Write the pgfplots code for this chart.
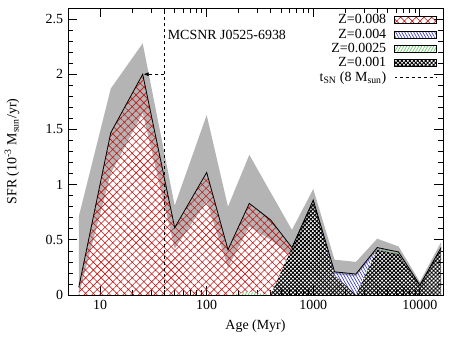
\documentclass[border=0pt]{standalone}
\usepackage{pgfplots}
\pgfplotsset{compat=1.18}
\usepackage{fontspec}
\setmainfont{Liberation Serif}
\usetikzlibrary{patterns.meta,arrows.meta}
\definecolor{bandgray}{RGB}{180,180,180}
\definecolor{zred}{RGB}{200,20,20}
\definecolor{zblue}{RGB}{40,40,200}
\definecolor{zgreen}{RGB}{90,200,90}
\pgfplotsset{
  boxleg/.style={legend image code/.code={\draw[##1] (0bp,-3.5bp) rectangle (42bp,3.5bp);}},
  lineleg/.style={legend image code/.code={\draw[##1] (0bp,0bp) -- (42bp,0bp);}},
}
\begin{document}
\fontsize{14}{16}\selectfont
\begin{tikzpicture}
\begin{axis}[
  scale only axis,
  width=375bp, height=287bp,
  xmode=log,
  xmin=5, xmax=16500,
  ymin=0, ymax=2.6,
  xtick={10,100,1000,10000},
  xticklabels={10,100,1000,10000},
  ytick={0,0.5,1,1.5,2,2.5},
  yticklabels={0,0.5,1,1.5,2,2.5},
  minor ytick={0.1,0.2,...,2.6},
  tick align=inside,
  major tick length=9bp,
  minor tick length=5bp,
  every tick/.style={black,line width=0.7bp},
  axis line style={line width=0.9bp},
  xlabel={Age (Myr)},
  ylabel={SFR (10\textsuperscript{-3} M\textsubscript{sun}/yr)},
  xlabel style={at={(axis description cs:0.5,-0.108)},anchor=center},
  ylabel style={at={(axis description cs:-0.149,0.5)},anchor=center},
  legend plot pos=right,
  legend cell align=right,
  legend style={at={(axis description cs:0.984,0.985)},anchor=north east,
    draw=none, fill=none, inner sep=0pt, row sep=-1bp,
    /tikz/every odd column/.style={column sep=6bp},
    font=\fontsize{14}{15}\selectfont},
  clip=true,
]
% legend images in reference order
\addlegendimage{boxleg, draw=none, pattern={Hatch[angle=45,distance=5.5bp,line width=0.6bp]}, pattern color=zred}
\addlegendentry{Z=0.008}
\addlegendimage{boxleg, draw=black, line width=0.6bp, pattern={Lines[angle=-60,distance=2.6bp,line width=0.6bp]}, pattern color=zblue}
\addlegendentry{Z=0.004}
\addlegendimage{boxleg, draw=black, line width=0.6bp, pattern={Lines[angle=60,distance=2.6bp,line width=0.6bp]}, pattern color=zgreen}
\addlegendentry{Z=0.0025}
\addlegendimage{boxleg, draw=black, line width=0.6bp, pattern={Hatch[angle=45,distance=2.8bp,line width=0.9bp]}, pattern color=black}
\addlegendentry{Z=0.001}
\addlegendimage{lineleg, black, dashed, line width=0.6bp}
\addlegendentry{t\textsubscript{SN} (8 M\textsubscript{sun})}

% uncertainty band
\addplot[forget plot, fill=bandgray, draw=none] coordinates {
 (6.31,0.71) (12.59,1.87) (25.12,2.28) (50.12,0.81) (100,1.63) (158.5,0.80)
 (251.2,1.27) (398.1,0.93) (631,0.59) (1000,0.96) (1585,0.32) (2512,0.30)
 (3981,0.51) (6310,0.44) (10000,0.12) (15849,0.48)
 (15849,0.38) (10000,0.05) (6310,0.35) (3981,0.40) (2512,0.17) (1585,0.19)
 (1000,0.80) (631,0.35) (398.1,0.50) (251.2,0.62) (158.5,0.25) (100,0.85)
 (50.12,0.42) (25.12,1.65) (12.59,1.10) (6.31,0.0)
} -- cycle;

% Z=0.001 (bottom layer)
\addplot[forget plot, draw=none, pattern={Hatch[angle=45,distance=2.8bp,line width=0.9bp]}, pattern color=black] coordinates {
 (398.1,0) (631,0.43) (1000,0.86) (1585,0.18) (2512,0) (3981,0.41) (6310,0.37)
 (10000,0.09) (15849,0.43) (15849,0) (398.1,0)
} -- cycle;

% Z=0.0025
\addplot[forget plot, draw=none, pattern={Lines[angle=60,distance=2.6bp,line width=0.6bp]}, pattern color=zgreen] coordinates {
 (158.5,0) (251.2,0.03) (398.1,0)
} -- cycle;
\addplot[forget plot, draw=none, pattern={Lines[angle=60,distance=2.6bp,line width=0.6bp]}, pattern color=zgreen] coordinates {
 (2512,0) (3981,0.42) (6310,0.39) (10000,0.09) (6310,0.37) (3981,0.41)
} -- cycle;

% Z=0.004
\addplot[forget plot, draw=none, pattern={Lines[angle=-60,distance=2.6bp,line width=0.6bp]}, pattern color=zblue] coordinates {
 (1000,0.86) (1585,0.21) (2512,0.19) (3981,0.43) (6310,0.39)
 (3981,0.42) (2512,0) (1585,0.18)
} -- cycle;

% Z=0.008 (top layer)
\addplot[forget plot, draw=none, pattern={Hatch[angle=45,distance=5.5bp,line width=0.6bp]}, pattern color=zred] coordinates {
 (6.31,0.07) (12.59,1.47) (25.12,2.0) (50.12,0.61) (100,1.11) (158.5,0.41)
 (251.2,0.83) (398.1,0.68) (631,0.43)
 (398.1,0) (251.2,0.03) (158.5,0) (100,0) (50.12,0) (25.12,0) (12.59,0) (6.31,0)
} -- cycle;

% total SFR
\addplot[forget plot, black, line width=0.8bp] coordinates {
 (6.31,0.07) (12.59,1.47) (25.12,2.0) (50.12,0.61) (100,1.11) (158.5,0.41)
 (251.2,0.83) (398.1,0.68) (631,0.43) (1000,0.86) (1585,0.21) (2512,0.19)
 (3981,0.43) (6310,0.39) (10000,0.09) (15849,0.43)
};

% t_SN
\addplot[forget plot, black, dashed, line width=0.6bp] coordinates {(40,0) (40,2.6)};
\addplot[forget plot, black, dashed, line width=0.6bp, -{Latex[length=5bp,width=4bp]}] coordinates {(40,2.0) (25.6,2.0)};

\node[anchor=west, inner sep=0pt] at (axis cs:43,2.36) {MCSNR J0525-6938};
\end{axis}
\path ([shift={(-68bp,-45bp)}]current axis.south west) rectangle ([shift={(10bp,8bp)}]current axis.north east);
\end{tikzpicture}
\end{document}
